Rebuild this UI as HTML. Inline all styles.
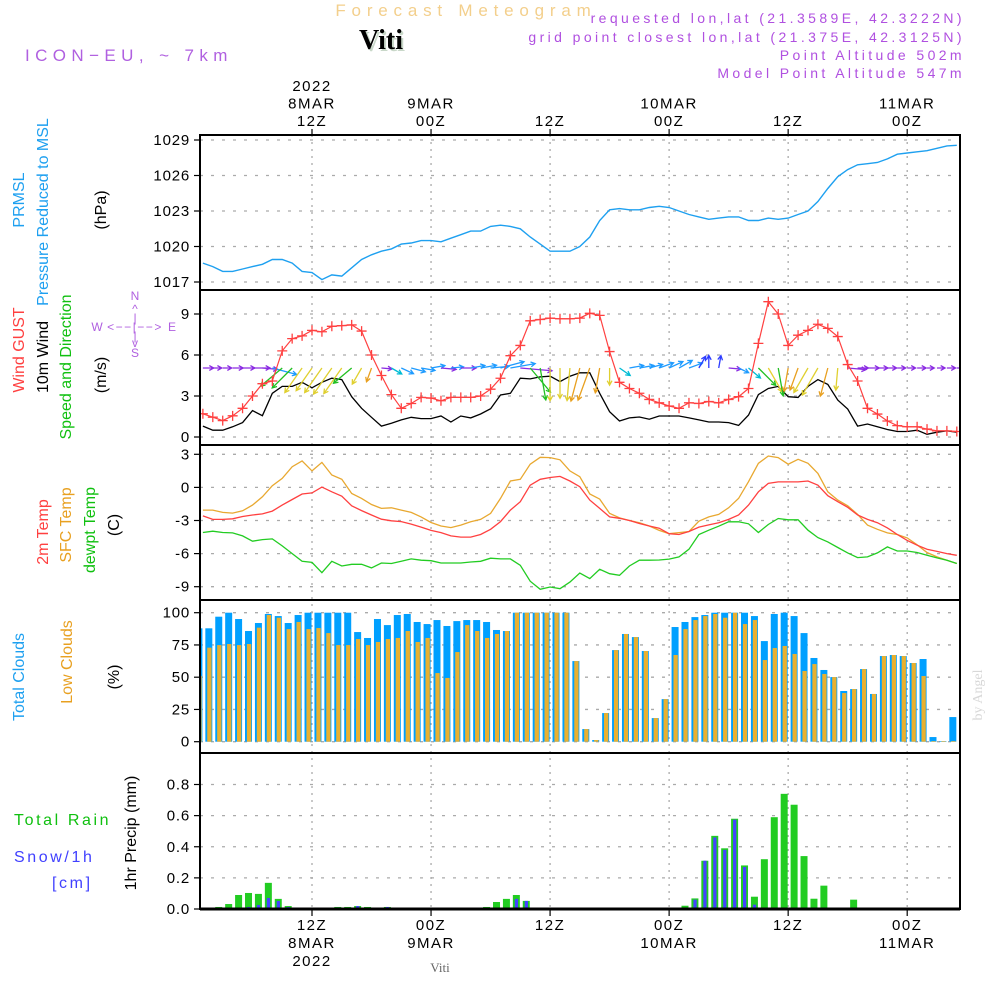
<!DOCTYPE html>
<html><head><meta charset="utf-8"><title>Forecast Meteogram Viti</title>
<style>
html,body{margin:0;padding:0;background:#fff;}
svg{display:block;font-family:"Liberation Sans",sans-serif;}
</style></head>
<body>
<svg id="chart" width="1000" height="1000" viewBox="0 0 1000 1000" xmlns="http://www.w3.org/2000/svg">
<defs><clipPath id="plotclip"><rect x="200" y="135" width="760" height="775"/></clipPath></defs>
<g>
<text x="466" y="16" text-anchor="middle" font-size="17" fill="#f3cf8c" letter-spacing="5.8">Forecast Meteogram</text>
<text x="383" y="51" text-anchor="middle" font-family="Liberation Serif,serif" font-weight="bold" font-size="28" fill="#c9d8c9">Viti</text>
<text x="381" y="49" text-anchor="middle" font-family="Liberation Serif,serif" font-weight="bold" font-size="28" fill="#000">Viti</text>
<text x="25" y="61" font-size="17" fill="#b060e0" letter-spacing="5.4">ICON−EU,  ~  7km</text>
<text x="965" y="23" text-anchor="end" font-size="14" fill="#b050e0" letter-spacing="3.4">requested lon,lat (21.3589E, 42.3222N)</text>
<text x="965" y="42" text-anchor="end" font-size="14" fill="#b050e0" letter-spacing="3.4">grid point closest lon,lat (21.375E, 42.3125N)</text>
<text x="965" y="60" text-anchor="end" font-size="14" fill="#b050e0" letter-spacing="3.4">Point Altitude 502m</text>
<text x="965" y="78" text-anchor="end" font-size="14" fill="#b050e0" letter-spacing="3.4">Model Point Altitude 547m</text>
</g>
<g font-size="16">
<text transform="translate(24,200) rotate(-90)" text-anchor="middle" fill="#1ea0f0">PRMSL</text>
<text transform="translate(48,212) rotate(-90)" text-anchor="middle" fill="#1ea0f0">Pressure Reduced to MSL</text>
<text transform="translate(106,210) rotate(-90)" text-anchor="middle" fill="#000">(hPa)</text>
<text transform="translate(24,350) rotate(-90)" text-anchor="middle" fill="#ff4040">Wind GUST</text>
<text transform="translate(48,357) rotate(-90)" text-anchor="middle" fill="#000">10m Wind</text>
<text transform="translate(71,367) rotate(-90)" text-anchor="middle" fill="#10c010">Speed and Direction</text>
<text transform="translate(106,375) rotate(-90)" text-anchor="middle" fill="#000">(m/s)</text>
<g font-size="12" fill="#b060e0" text-anchor="middle">
<text x="135" y="300">N</text><text x="135" y="357">S</text><text x="97" y="331">W</text><text x="172" y="331">E</text>
<text x="135" y="313">^</text><text x="135" y="347">v</text>
<text x="135" y="331" letter-spacing="1.5">&lt;−−|−−&gt;</text><text x="135" y="322">|</text><text x="135" y="340">|</text>
</g>
<text transform="translate(48,532) rotate(-90)" text-anchor="middle" fill="#ff4040">2m Temp</text>
<text transform="translate(71,525) rotate(-90)" text-anchor="middle" fill="#e8a020">SFC Temp</text>
<text transform="translate(95,530) rotate(-90)" text-anchor="middle" fill="#10c010">dewpt Temp</text>
<text transform="translate(119,525) rotate(-90)" text-anchor="middle" fill="#000">(C)</text>
<text transform="translate(24,677) rotate(-90)" text-anchor="middle" fill="#1ea0f0">Total Clouds</text>
<text transform="translate(72,662) rotate(-90)" text-anchor="middle" fill="#e8a020">Low Clouds</text>
<text transform="translate(119,677) rotate(-90)" text-anchor="middle" fill="#000">(%)</text>
<text x="14" y="825" fill="#10c010" letter-spacing="2.6">Total  Rain</text>
<text x="14" y="862" fill="#4040ff" letter-spacing="2.6">Snow/1h</text>
<text x="52" y="888" fill="#4040ff" letter-spacing="2.6">[cm]</text>
<text transform="translate(136,833) rotate(-90)" text-anchor="middle" fill="#000">1hr Precip (mm)</text>
</g>
<text transform="translate(982,695) rotate(-90)" text-anchor="middle" font-family="Liberation Serif,serif" font-size="14" fill="#d8d8d8">by Angel</text>
<text x="440" y="972" text-anchor="middle" font-family="Liberation Serif,serif" font-size="13" fill="#666">Viti</text>
<g id="plots"></g>
</svg>
<script>
// ---- data (hourly, h = 1..77 hours after 00Z 8MAR) ----
const pressure = [1018.6,1018.3,1017.9,1017.9,1018.1,1018.3,1018.5,1018.9,1018.9,1018.6,1017.9,1017.8,1017.2,1017.6,1017.5,1018.2,1018.9,1019.3,1019.6,1019.8,1020.2,1020.3,1020.5,1020.5,1020.4,1020.7,1021.0,1021.3,1021.3,1021.7,1021.8,1021.7,1021.5,1020.8,1020.2,1019.6,1019.6,1019.6,1020.0,1020.8,1022.2,1023.1,1023.2,1023.1,1023.1,1023.3,1023.4,1023.3,1023.0,1022.7,1022.5,1022.3,1022.4,1022.5,1022.5,1022.2,1022.2,1022.4,1022.3,1022.4,1022.7,1023.0,1023.8,1024.9,1025.9,1026.5,1026.9,1027.0,1027.1,1027.4,1027.8,1027.9,1028.0,1028.1,1028.3,1028.5,1028.55];
const gust = [1.7,1.45,1.2,1.55,2.1,3.0,3.9,4.1,6.3,7.2,7.4,7.8,7.7,8.1,8.15,8.2,7.75,6.0,4.5,3.1,2.1,2.45,2.9,2.85,2.65,2.9,2.9,2.9,3.0,3.5,4.3,5.95,6.7,8.5,8.6,8.7,8.65,8.65,8.7,9.05,8.9,6.25,4.0,3.55,3.2,2.75,2.5,2.27,2.1,2.5,2.45,2.6,2.5,2.75,2.95,3.55,6.85,9.9,9.0,6.7,7.45,7.8,8.25,7.95,7.35,5.3,4.1,2.1,1.68,1.17,0.83,0.75,0.75,0.58,0.45,0.45,0.4];
const wind = [0.8,0.5,0.5,0.75,1.05,1.93,1.56,3.2,3.7,3.7,4.0,3.6,4.0,4.3,4.2,2.95,2.1,1.44,0.8,1.0,1.25,1.44,1.35,1.35,1.54,1.1,1.54,1.4,1.68,2.07,3.07,3.2,4.3,4.25,4.4,4.45,4.05,4.45,4.7,4.7,3.2,1.85,1.17,1.4,1.46,1.3,1.54,1.54,1.54,1.4,1.25,1.1,1.1,1.05,0.85,1.6,3.1,3.55,3.7,2.95,2.9,3.7,4.2,3.85,2.7,2.05,0.8,0.95,0.75,0.55,0.4,0.4,0.5,0.2,0.35,0.45,0.35];
// screen direction the arrow points to (deg, 0 = east, 90 = south)
const windDir = [0,0,0,0,0,0,5,15,140,135,125,125,125,125,125,140,120,110,5,30,25,15,10,-10,5,-5,0,-10,-10,-5,-15,-10,5,50,80,90,90,95,105,110,100,90,35,-10,-10,-15,-20,-25,-30,-20,-60,-90,-80,5,25,40,45,60,80,100,110,120,120,105,95,5,0,0,0,0,0,0,0,0,0,0,0];
const t2m = [-2.58,-2.9,-2.9,-2.85,-2.64,-2.5,-2.4,-2.15,-1.6,-1.1,-0.6,-0.5,0.03,-0.4,-0.8,-1.67,-2.1,-2.5,-2.88,-3.03,-3.1,-3.33,-3.6,-3.9,-4.1,-4.4,-4.5,-4.5,-4.27,-3.8,-3.1,-2.06,-1.3,0.2,0.73,0.9,1.0,0.58,0.06,-1.15,-1.9,-2.67,-2.8,-3.0,-3.27,-3.5,-3.7,-4.2,-4.27,-4.0,-3.6,-3.4,-3.2,-2.9,-2.5,-1.6,-0.4,0.36,0.5,0.5,0.5,0.58,0.2,-0.75,-1.3,-1.8,-2.5,-2.9,-3.2,-3.67,-4.27,-4.8,-5.24,-5.6,-5.8,-6.0,-6.15];
const tsfc = [-2.06,-2.06,-2.27,-2.33,-2.12,-1.6,-0.85,0.15,0.82,1.88,2.4,1.5,2.27,1.12,0.73,-0.55,-1.0,-1.55,-1.9,-1.85,-2.06,-2.27,-2.67,-3.18,-3.5,-3.64,-3.42,-3.12,-2.9,-2.36,-1.0,0.58,0.73,2.1,2.73,2.7,2.5,1.5,0.97,-0.6,-1.06,-2.36,-2.76,-3.0,-3.2,-3.5,-3.9,-4.2,-4.1,-4.0,-3.06,-2.67,-2.45,-1.85,-1.0,0.52,2.18,2.85,2.7,2.1,2.55,2.18,1.27,-0.4,-1.15,-1.67,-2.45,-3.42,-3.8,-4.12,-4.27,-4.58,-5.2,-5.9,-6.3,-6.6,-6.9];
const dewpt = [-4.09,-3.97,-4.09,-4.12,-4.4,-4.88,-4.73,-4.67,-5.3,-6.0,-6.7,-6.8,-7.73,-6.7,-7.12,-6.97,-6.97,-7.3,-6.85,-6.9,-6.7,-6.48,-6.6,-6.64,-6.85,-6.85,-6.85,-6.76,-6.7,-6.42,-6.48,-6.48,-7.06,-8.5,-9.24,-9.03,-9.18,-8.58,-7.76,-8.27,-7.42,-7.82,-7.97,-7.12,-6.6,-6.6,-6.58,-6.5,-6.3,-5.6,-4.27,-3.88,-3.52,-3.12,-3.12,-3.3,-4.09,-3.36,-2.82,-2.94,-2.94,-3.88,-4.55,-4.94,-5.45,-5.94,-6.36,-6.3,-5.94,-5.39,-5.76,-5.76,-5.9,-6.15,-6.39,-6.6,-6.9];
// bars, hour k = 0..76
const totalClouds = [87.9,87.9,96.9,100,95.1,85.8,92,99,97.4,92,98.2,100,100,100,100,100,85,80.4,95.1,90.4,98.2,99,92.8,91.2,94.3,89.7,93.5,94.3,94.3,92.8,86.6,85.8,100,100,100,100,100,100,62.5,9.8,1.3,22.2,71,83.5,81.1,70.3,18.3,33,88.9,92.8,96.6,98.2,100,100,100,100,97.4,78,99,100,97.4,84.2,64.9,55.6,50.1,39.3,40.8,56.3,37,66.4,67.2,66.4,61,64.1,3.6,0.5,19.1];
const lowClouds = [51,72.9,74.9,75.7,74.9,75.7,88.4,98.2,96.1,87.3,92.8,87.3,88.1,84.2,74.9,74.9,79.6,74.9,77.3,79.6,80.4,85.8,77.3,80.4,53.2,49.4,69.5,90.4,85.8,80.4,83.5,85.8,100,100,100,100,100,100,62.5,9.8,1.3,22.2,71,83.5,81.1,70.3,18.3,33,67.2,87.3,94.3,97.4,99,96.1,100,91.2,94.3,63.3,72.6,74.2,68,54.8,60.2,52.5,50.1,37.7,40.8,56.3,37,66.4,67.2,66.4,61,50.9,0.5,0.5,0.5];
const rain = [0,0,0.013,0.032,0.09,0.103,0.097,0.168,0.065,0.019,0.006,0,0,0,0.013,0.013,0.019,0.013,0.004,0.013,0.003,0,0,0,0,0,0,0,0.003,0.013,0.045,0.065,0.09,0.052,0,0,0,0,0,0,0,0,0,0,0,0,0,0,0,0.021,0.068,0.31,0.47,0.39,0.58,0.28,0.079,0.32,0.59,0.74,0.67,0.34,0.066,0.15,0,0.008,0.06,0.008,0.008,0,0,0,0,0,0,0,0];
const snow = [0,0,0,0,0.006,0.013,0.026,0.071,0.052,0.013,0,0,0,0,0.01,0,0.019,0,0.006,0.013,0.006,0,0,0,0,0,0,0,0.006,0.006,0,0,0.065,0.052,0,0,0,0,0,0,0,0,0,0,0,0,0,0,0,0,0.06,0.31,0.46,0.38,0.574,0.27,0.028,0.002,0,0,0,0,0,0,0,0,0,0,0,0,0,0,0,0,0,0,0];
// axis ticks
const timeTicks = [12,24,36,48,60,72];
const topLabels = [["2022","8MAR","12Z"],["","9MAR","00Z"],["","","12Z"],["","10MAR","00Z"],["","","12Z"],["","11MAR","00Z"]];
const bottomLabels = [["12Z","8MAR","2022"],["00Z","9MAR",""],["12Z","",""],["00Z","10MAR",""],["12Z","",""],["00Z","11MAR",""]];
const pTicks = [1017,1020,1023,1026,1029];
const wTicks = [0,3,6,9];
const tTicks = [-9,-6,-3,0,3];
const cTicks = [0,25,50,75,100];
const rTicks = [0,0.2,0.4,0.6,0.8];
const rTickLabels = ["0.0","0.2","0.4","0.6","0.8"];

// ---- scales ----
const X0 = 200, X1 = 960;
function x(h){ return 312 + (h - 12) * 9.92; }
function lin(d0,d1,r0,r1){ return v => r0 + (v - d0) * (r1 - r0) / (d1 - d0); }
const yP = lin(1017,1029,282,140);
const yW = lin(0,9,437,314);
const yT = lin(-9,3,586.7,454.3);
const yC = lin(0,100,741.7,612.7);
const yR = lin(0,0.8,909,784.5);
const panels = [[135,290],[290,445],[445,600],[600,753],[753,909]];

const NS = "http://www.w3.org/2000/svg";
const root = document.getElementById("plots");
function el(tag, attrs, parent){
  const e = document.createElementNS(NS, tag);
  for (const k in attrs) e.setAttribute(k, attrs[k]);
  (parent || root).appendChild(e);
  return e;
}

// grids
const grid = el("g", {});


function hgrid(ticks, ys){
  ticks.forEach(t => { el("line",{x1:X0,x2:X1,y1:ys(t),y2:ys(t),stroke:"#aaa","stroke-width":1.3,"stroke-dasharray":"3,8"},grid); });
}
hgrid(pTicks,yP); hgrid(wTicks,yW); hgrid(tTicks,yT); hgrid(cTicks,yC); hgrid(rTicks,yR);
timeTicks.forEach(h => {
  el("line",{x1:x(h),x2:x(h),y1:135,y2:909,stroke:"#aaa","stroke-width":1.3,"stroke-dasharray":"2,5"},grid);
});

const plot = el("g", {"clip-path":"url(#plotclip)"});



function linePath(arr, ys){ return arr.map((v,i)=> (i?"L":"M") + x(i+1).toFixed(1) + "," + ys(v).toFixed(1)).join(""); }
const pl = el("path",{d:linePath(pressure,yP),fill:"none",stroke:"#1ea0f0","stroke-width":1.4},plot);



const wl = el("path",{d:linePath(wind,yW),fill:"none",stroke:"#000","stroke-width":1.3},plot);



function arrowColor(a){
  if (a < -45) return "#2c3cff";
  if (a < -3) return "#1e9bff";
  if (a < 8) return "#8a2be2";
  if (a < 30) return "#1e9bff";
  if (a < 42) return "#00bcd4";
  if (a < 55) return "#22c022";
  if (a < 75) return "#e8d030";
  if (a < 88) return "#22c022";
  if (a < 100) return "#e0d030";
  if (a < 112) return "#e8a020";
  if (a < 130) return "#e0d030";
  return "#22c022";
}
const arrows = el("g",{},plot);


windDir.forEach((a,i) => {
  const x0 = x(i+1), y0 = 368;
  const L = 6 + wind[i] * 6;
  const r = a * Math.PI / 180;
  const x1 = x0 + L*Math.cos(r), y1 = y0 + L*Math.sin(r);
  const c = arrowColor(a);
  const hl = 5, ha = 0.5;
  const p = `M${x0},${y0}L${x1},${y1}M${x1 - hl*Math.cos(r-ha)},${y1 - hl*Math.sin(r-ha)}L${x1},${y1}L${x1 - hl*Math.cos(r+ha)},${y1 - hl*Math.sin(r+ha)}`;
  const ar = el("path",{d:p,fill:"none",stroke:c,"stroke-width":1.3},arrows);
  
  
});

const gl = el("path",{d:linePath(gust,yW),fill:"none",stroke:"#ff4040","stroke-width":1.2},plot);


gust.forEach((v,i) => {
  const cx = x(i+1), cy = yW(v);
  const m = el("path",{d:`M${cx-5},${cy}H${cx+5}M${cx},${cy-5}V${cy+5}`,stroke:"#ff4040","stroke-width":1.3},plot);
  
  
});

[[tsfc,"#e8a830","sfc-temp-line"],[t2m,"#ff4040","t2m-line"],[dewpt,"#22cc22","dewpt-line"]].forEach(s => {
  const p = el("path",{d:linePath(s[0],yT),fill:"none",stroke:s[1],"stroke-width":1.3},plot);
  
  
});

function bx(k){ return x(k + 0.6); }
totalClouds.forEach((v,k) => {
  const cx = bx(k);
  const b = el("rect",{x:cx-3.5,y:yC(v),width:7,height:yC(0)-yC(v),fill:"#00a0ff"},plot);
  
  
  const o = el("rect",{x:cx-1.6,y:yC(lowClouds[k]),width:4.3,height:yC(0)-yC(lowClouds[k]),fill:"#e8b030"},plot);
  
  
});

rain.forEach((v,k) => {
  const cx = bx(k);
  if (v > 0) {
    const b = el("rect",{x:cx-3.5,y:yR(v),width:7,height:yR(0)-yR(v),fill:"#22cc22"},plot);
    
    
  }
  if (snow[k] > 0) {
    const s = el("rect",{x:cx-1.5,y:yR(snow[k]),width:3.2,height:yR(0)-yR(snow[k]),fill:"#4444ff"},plot);
    
    
  }
});

const frame = el("g",{});


panels.forEach(pn => {
  el("rect",{x:X0,y:pn[0],width:X1-X0,height:pn[1]-pn[0],fill:"none",stroke:"#000","stroke-width":2},frame);
});
el("line",{x1:X0,x2:X1,y1:909,y2:909,stroke:"#000","stroke-width":3},frame);

const ylab = el("g",{"font-size":15,fill:"#000","text-anchor":"end","letter-spacing":"0.8"});


function yticks(ticks, ys, labels){
  ticks.forEach((t,i) => {
    const y = ys(t);
    el("line",{x1:194,x2:X0,y1:y,y2:y,stroke:"#000","stroke-width":1.2},ylab);
    const tx = el("text",{x:190,y:y+5},ylab);
    tx.textContent = labels ? labels[i] : String(t);
  });
}
yticks(pTicks,yP); yticks(wTicks,yW); yticks(tTicks,yT); yticks(cTicks,yC); yticks(rTicks,yR,rTickLabels);

const tl = el("g",{"font-size":15,fill:"#000","text-anchor":"middle","letter-spacing":"1.5"});


timeTicks.forEach((h,i) => {
  const xx = x(h);
  el("line",{x1:xx,x2:xx,y1:129,y2:135,stroke:"#000","stroke-width":1.2},tl);
  el("line",{x1:xx,x2:xx,y1:909,y2:916,stroke:"#000","stroke-width":1.2},tl);
  topLabels[i].forEach((s,j) => { if (s) { const t = el("text",{x:xx,y:91+j*17.5},tl); t.textContent = s; } });
  bottomLabels[i].forEach((s,j) => { if (s) { const t = el("text",{x:xx,y:930+j*18},tl); t.textContent = s; } });
});
</script>
</body></html>
